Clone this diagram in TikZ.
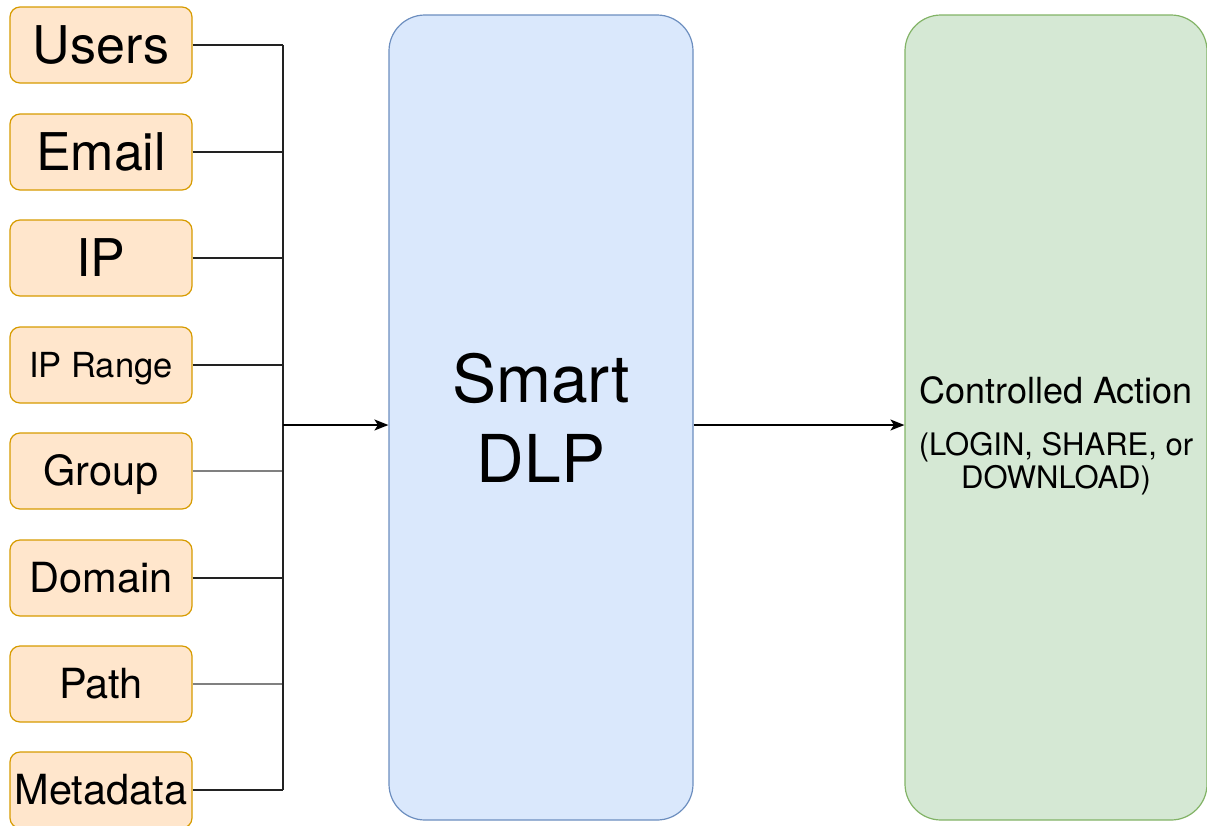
\documentclass[tikz,border=0pt]{standalone}
\usepackage{fontspec}
\setmainfont{TeX Gyre Heros}
\usetikzlibrary{arrows.meta,calc}
\definecolor{ofill}{HTML}{FFE6CC}
\definecolor{ostroke}{HTML}{D79B00}
\definecolor{bfill}{HTML}{DAE8FC}
\definecolor{bstroke}{HTML}{6C8EBF}
\definecolor{gfill}{HTML}{D5E8D4}
\definecolor{gstroke}{HTML}{82B366}
\definecolor{wiredark}{HTML}{222222}
\definecolor{wiregrey}{HTML}{808080}
\tikzset{
  inbox/.style={rounded corners=10pt, draw=ostroke, fill=ofill, line width=1.2pt,
    minimum width=182pt, minimum height=76pt, inner sep=0pt, text depth=0pt},
  bigtxt/.style={font=\fontsize{52}{60}\selectfont, text height=37.4pt},
  midtxt/.style={font=\fontsize{41.5}{48}\selectfont, text height=29.9pt},
  smalltxt/.style={font=\fontsize{34.5}{40}\selectfont, text height=24.8pt},
  bigbox/.style={rounded corners=36pt, line width=1.2pt, minimum width=304pt,
    minimum height=805pt, inner sep=0pt},
  wire/.style={draw=wiredark, line width=1.5pt},
  wiregr/.style={draw=wiregrey, line width=1.7pt},
  flow/.style={draw=black, line width=1.5pt, -{Stealth[length=14pt,width=11pt,inset=3.5pt]}},
}
\begin{document}
\begin{tikzpicture}[x=1pt,y=-1pt]
\useasboundingbox (0,0) rectangle (1207,825);
% input boxes
\node[inbox,bigtxt] (users) at (101,45) {Users};
\node[inbox,bigtxt] (email) at (101,152) {Email};
\node[inbox,bigtxt] (ip) at (101,258) {IP};
\node[inbox,smalltxt] (iprange) at (101,365) {IP Range};
\node[inbox,midtxt] (group) at (101,471) {Group};
\node[inbox,midtxt] (domain) at (101,578) {Domain};
\node[inbox,midtxt] (path) at (101,684) {Path};
\node[inbox,midtxt] (meta) at (101,790) {Metadata};
% main boxes
\node[bigbox, draw=bstroke, fill=bfill, align=center,
  font=\fontsize{66}{80}\selectfont] (dlp) at (541,417.5) {Smart\\DLP};
\node[bigbox, draw=gstroke, fill=gfill, minimum width=302pt] (act) at (1056,417.5) {};
\node[align=center, anchor=base, font=\fontsize{31}{33}\selectfont] (actlabel) at (1056,488)
  {{\fontsize{36}{40}\selectfont Controlled Action}\\[19pt](LOGIN, SHARE, or\\DOWNLOAD)};
% bus
\coordinate (bus) at (283,425);
\draw[wire] (users.east) -- (users.east -| bus);
\draw[wire] (email.east) -- (email.east -| bus);
\draw[wire] (ip.east) -- (ip.east -| bus);
\draw[wire] (iprange.east) -- (iprange.east -| bus);
\draw[wiregr] (group.east) -- (group.east -| bus);
\draw[wire] (domain.east) -- (domain.east -| bus);
\draw[wiregr] (path.east) -- (path.east -| bus);
\draw[wire] (meta.east) -- (meta.east -| bus);
\draw[wire] (users.east -| bus) -- (meta.east -| bus);
\draw[flow] (bus) -- (bus -| dlp.west);
\coordinate (out) at (dlp.east |- bus);
\draw[flow] (out) -- (out -| act.west);
\end{tikzpicture}
\end{document}
